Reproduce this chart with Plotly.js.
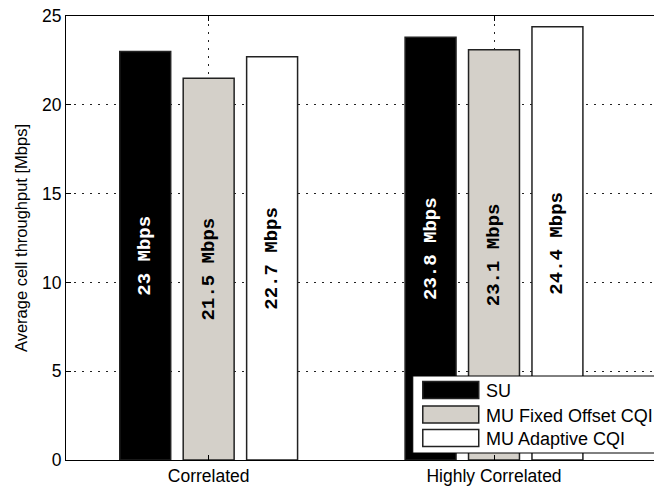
<!DOCTYPE html>
<html>
<head>
<meta charset="utf-8">
<script src="https://cdn.plot.ly/plotly-3.0.1.min.js"></script>
<style>
  html, body { margin: 0; padding: 0; overflow: hidden; background: #fff; }
  #chart { width: 720px; height: 487px; }
</style>
</head>
<body>
<div id="chart"></div>
<script>
// Average cell throughput per scenario
const scenarios = ['Correlated', 'Highly Correlated'];
const seriesNames = ['SU', 'MU Fixed Offset CQI', 'MU Adaptive CQI'];
const suValues = [23, 23.8];
const muFixedValues = [21.5, 23.1];
const muAdaptiveValues = [22.7, 24.4];
const yTicks = [0, 5, 10, 15, 20, 25];

const fills = ['#000000', '#d4d0c9', '#ffffff'];
const labelColors = ['#ffffff', '#000000', '#000000'];
const seriesValues = [suValues, muFixedValues, muAdaptiveValues];

// plot area geometry (pixels)
const W = 720, H = 487;
const M = { l: 66, t: 16, b: 27 };
const plotW = 642.4;
M.r = W - M.l - plotW;
const plotH = H - M.t - M.b;
const px = x => (x - M.l) / plotW;
const py = y => (H - M.b - y) / plotH;

const sans = 'Liberation Sans, Arial, Helvetica, sans-serif';

const traces = seriesValues.map((vals, i) => ({
  type: 'bar',
  name: seriesNames[i],
  x: scenarios,
  y: vals,
  marker: { color: fills[i], line: { color: '#222', width: 1.5 } },
  texttemplate: '%{y} Mbps',
  textposition: 'inside',
  insidetextanchor: 'middle',
  textangle: -90,
  insidetextfont: { family: 'Liberation Mono, Courier New, monospace', size: 19, weight: 'bold', color: labelColors[i] },
  hoverinfo: 'skip',
  showlegend: false
}));

// legend drawn as boxed swatches
const legBox = { x0: 413, x1: 705, y0: 376, y1: 453 };
const swatchRows = [390, 414.5, 438];
const shapes = [{
  type: 'rect', xref: 'paper', yref: 'paper', layer: 'above',
  x0: px(legBox.x0), x1: px(legBox.x1), y0: py(legBox.y1), y1: py(legBox.y0),
  line: { color: '#000', width: 1 }, fillcolor: '#fff'
}];
const annotations = [];
seriesNames.forEach((name, i) => {
  const cy = swatchRows[i];
  shapes.push({
    type: 'rect', xref: 'paper', yref: 'paper', layer: 'above',
    x0: px(423), x1: px(479), y0: py(cy + 8.5), y1: py(cy - 8.5),
    line: { color: '#222', width: 1.5 }, fillcolor: fills[i]
  });
  annotations.push({
    xref: 'paper', yref: 'paper', x: px(484), y: py(cy + 1),
    xanchor: 'left', yanchor: 'middle', showarrow: false,
    text: name, font: { family: sans, size: 18, color: '#000' }
  });
});

const layout = {
  width: W, height: H,
  margin: { l: M.l, r: M.r, t: M.t, b: M.b, pad: 0 },
  paper_bgcolor: '#fff', plot_bgcolor: '#fff',
  barmode: 'group', bargap: 0.333, bargroupgap: 0.197,
  font: { family: sans, color: '#000' },
  xaxis: {
    type: 'category', range: [-0.5, 1.75],
    showline: true, linecolor: '#000', linewidth: 1, mirror: 'ticks',
    ticks: 'inside', ticklen: 5, tickcolor: '#000',
    showgrid: true, gridcolor: '#222', gridwidth: 1, griddash: '2px,6px',
    tickfont: { family: sans, size: 17.5, color: '#000' }
  },
  yaxis: {
    range: [0, 25], tickvals: yTicks,
    showline: true, linecolor: '#000', linewidth: 1, mirror: 'ticks',
    ticks: 'inside', ticklen: 5, tickcolor: '#000',
    showgrid: true, gridcolor: '#222', gridwidth: 1, griddash: '2px,6px',
    zeroline: false,
    tickfont: { family: sans, size: 17.5, color: '#000' },
    title: { text: 'Average cell throughput [Mbps]', font: { family: sans, size: 16.5, color: '#000' }, standoff: 10 }
  },
  shapes: shapes,
  annotations: annotations,
  showlegend: false
};

Plotly.newPlot('chart', traces, layout, { staticPlot: true, displayModeBar: false });
</script>
</body>
</html>
